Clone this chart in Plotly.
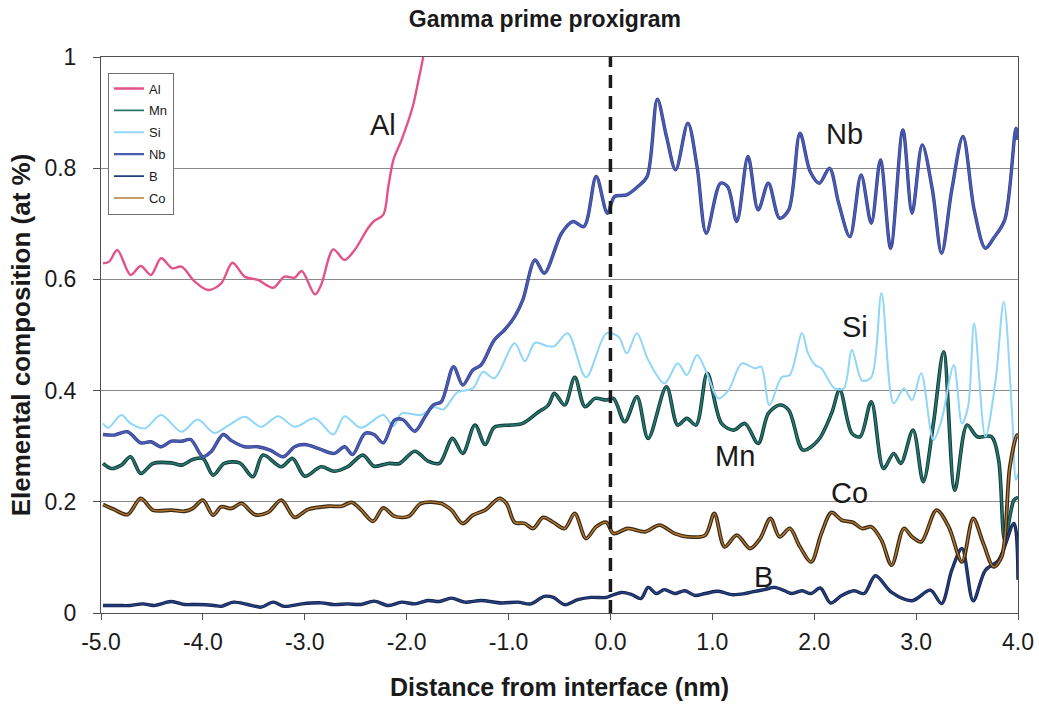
import plotly.graph_objects as go

# Proxigram profiles: distance from interface (nm) vs composition
al_x = [-4.98, -4.92, -4.84, -4.71, -4.61, -4.51, -4.41, -4.30, -4.21, -4.08, -3.95, -3.82,
        -3.71, -3.59, -3.46, -3.31, -3.20, -3.10, -3.03, -2.90, -2.84, -2.72, -2.61, -2.51,
        -2.38, -2.32, -2.23, -2.18, -2.13, -2.05, -1.94, -1.89, -1.84, -1.75]
al_y = [0.629, 0.632, 0.653, 0.608, 0.624, 0.608, 0.638, 0.620, 0.623, 0.596, 0.581, 0.593,
        0.630, 0.605, 0.599, 0.585, 0.605, 0.603, 0.615, 0.573, 0.590, 0.654, 0.635, 0.653,
        0.692, 0.705, 0.716, 0.767, 0.815, 0.851, 0.911, 0.953, 0.998, 1.10]

mn_x = [-4.98, -4.90, -4.80, -4.71, -4.61, -4.49, -4.31, -4.21, -4.10, -4.00, -3.90, -3.79,
        -3.64, -3.51, -3.41, -3.23, -3.12, -3.00, -2.84, -2.71, -2.58, -2.43, -2.32, -2.18,
        -2.07, -1.92, -1.79, -1.68, -1.55, -1.45, -1.33, -1.23, -1.14, -0.97, -0.86, -0.71,
        -0.61, -0.55, -0.45, -0.35, -0.25, -0.15, -0.04, 0.03, 0.14, 0.26, 0.37, 0.55, 0.66,
        0.75, 0.84, 0.95, 1.09, 1.21, 1.32, 1.45, 1.55, 1.66, 1.75, 1.89, 2.04, 2.17, 2.25,
        2.37, 2.45, 2.56, 2.68, 2.78, 2.85, 2.97, 3.07, 3.17, 3.27, 3.38, 3.50, 3.60, 3.74,
        3.81, 3.87, 3.96, 4.00]
mn_y = [0.269, 0.260, 0.266, 0.281, 0.251, 0.269, 0.270, 0.266, 0.276, 0.278, 0.248, 0.269,
        0.270, 0.245, 0.284, 0.263, 0.278, 0.246, 0.263, 0.255, 0.263, 0.284, 0.264, 0.269,
        0.269, 0.291, 0.273, 0.269, 0.314, 0.287, 0.338, 0.303, 0.334, 0.338, 0.341, 0.361,
        0.374, 0.395, 0.374, 0.424, 0.371, 0.386, 0.383, 0.386, 0.344, 0.389, 0.314, 0.407, 0.338,
        0.350, 0.338, 0.431, 0.341, 0.329, 0.341, 0.305, 0.359, 0.374, 0.365, 0.293, 0.311, 0.359, 0.401,
        0.323, 0.317, 0.380, 0.260, 0.287, 0.269, 0.329, 0.236, 0.341, 0.470, 0.221, 0.338, 0.317, 0.317,
        0.275, 0.131, 0.203, 0.208]

si_x = [-4.98, -4.93, -4.80, -4.71, -4.57, -4.41, -4.21, -4.05, -3.89, -3.76, -3.59, -3.43,
        -3.26, -3.10, -2.90, -2.72, -2.61, -2.45, -2.23, -2.13, -2.05, -1.86, -1.73, -1.64,
        -1.50, -1.35, -1.25, -1.14, -0.94, -0.84, -0.74, -0.62, -0.55, -0.42, -0.24, -0.04,
        0.08, 0.16, 0.26, 0.37, 0.53, 0.66, 0.75, 0.85, 0.94, 1.06, 1.16, 1.29, 1.42, 1.48,
        1.56, 1.68, 1.76, 1.88, 1.94, 2.01, 2.07, 2.20, 2.29, 2.37, 2.47, 2.56, 2.66, 2.78,
        2.88, 2.96, 3.05, 3.17, 3.25, 3.37, 3.45, 3.51, 3.57, 3.68, 3.78, 3.86, 3.94, 3.98, 4.00]
si_y = [0.341, 0.333, 0.356, 0.341, 0.332, 0.356, 0.326, 0.348, 0.324, 0.336, 0.353, 0.335,
        0.354, 0.335, 0.350, 0.321, 0.354, 0.333, 0.356, 0.336, 0.359, 0.356, 0.370, 0.366,
        0.397, 0.404, 0.434, 0.422, 0.485, 0.453, 0.486, 0.480, 0.480, 0.503, 0.424, 0.503,
        0.497, 0.467, 0.503, 0.455, 0.413, 0.449, 0.428, 0.464, 0.434, 0.386, 0.401, 0.449, 0.440, 0.443,
        0.374, 0.424, 0.428, 0.503, 0.467, 0.446, 0.440, 0.404, 0.404, 0.473, 0.418, 0.424, 0.575, 0.377,
        0.404, 0.383, 0.431, 0.311, 0.347, 0.446, 0.341, 0.371, 0.521, 0.317, 0.418, 0.560, 0.365, 0.239, 0.251]

nb_x = [-4.98, -4.87, -4.74, -4.61, -4.51, -4.41, -4.31, -4.21, -4.12, -4.00, -3.92, -3.80,
        -3.72, -3.59, -3.46, -3.34, -3.21, -3.10, -3.00, -2.87, -2.71, -2.61, -2.53, -2.41,
        -2.32, -2.23, -2.12, -2.04, -1.92, -1.82, -1.74, -1.66, -1.54, -1.45, -1.35, -1.27,
        -1.14, -1.04, -0.94, -0.86, -0.74, -0.65, -0.48, -0.37, -0.26, -0.14, -0.03, 0.04,
        0.16, 0.27, 0.36, 0.46, 0.55, 0.64, 0.76, 0.85, 0.94, 1.08, 1.15, 1.24, 1.35, 1.45,
        1.55, 1.66, 1.75, 1.86, 1.96, 2.05, 2.15, 2.24, 2.35, 2.46, 2.56, 2.65, 2.75, 2.87,
        2.96, 3.06, 3.16, 3.25, 3.35, 3.46, 3.57, 3.68, 3.76, 3.87, 3.98, 4.00]
nb_y = [0.321, 0.320, 0.326, 0.306, 0.308, 0.299, 0.309, 0.309, 0.312, 0.281, 0.290, 0.321,
        0.310, 0.299, 0.299, 0.293, 0.281, 0.299, 0.303, 0.296, 0.287, 0.299, 0.285, 0.323,
        0.321, 0.306, 0.347, 0.348, 0.327, 0.353, 0.374, 0.380, 0.443, 0.410, 0.437, 0.446,
        0.491, 0.509, 0.533, 0.563, 0.635, 0.611, 0.683, 0.704, 0.695, 0.785, 0.719, 0.749,
        0.752, 0.767, 0.785, 0.924, 0.857, 0.797, 0.881, 0.803, 0.683, 0.773, 0.767, 0.704, 0.821, 0.725,
        0.773, 0.710, 0.725, 0.863, 0.794, 0.773, 0.800, 0.737, 0.677, 0.788, 0.701, 0.815, 0.656, 0.869,
        0.719, 0.842, 0.761, 0.647, 0.761, 0.857, 0.725, 0.656, 0.674, 0.707, 0.872, 0.851]

b_x = [-4.98, -4.84, -4.71, -4.59, -4.48, -4.31, -4.18, -4.05, -3.89, -3.82, -3.70, -3.56,
       -3.43, -3.31, -3.20, -3.03, -2.84, -2.71, -2.58, -2.45, -2.32, -2.18, -2.05, -1.92,
       -1.79, -1.68, -1.56, -1.43, -1.27, -1.07, -0.91, -0.78, -0.65, -0.56, -0.45, -0.32,
       -0.19, -0.04, 0.01, 0.11, 0.21, 0.30, 0.37, 0.45, 0.53, 0.63, 0.73, 0.83, 0.93, 1.06,
       1.19, 1.32, 1.42, 1.51, 1.61, 1.71, 1.78, 1.88, 1.97, 2.06, 2.16, 2.27, 2.39, 2.49,
       2.60, 2.76, 2.96, 3.14, 3.25, 3.35, 3.45, 3.56, 3.68, 3.81, 3.96, 4.00]
b_y = [0.0135, 0.0135, 0.0135, 0.0165, 0.0135, 0.0207, 0.0153, 0.0153, 0.0135, 0.012, 0.0195, 0.0153,
       0.0105, 0.0195, 0.012, 0.0165, 0.0183, 0.0150, 0.0165, 0.0153, 0.0213, 0.0135, 0.0195, 0.0165,
       0.0225, 0.0207, 0.0267, 0.0195, 0.0225, 0.0180, 0.0195, 0.0165, 0.030, 0.028, 0.015, 0.024,
       0.028, 0.028, 0.0315, 0.037, 0.033, 0.026, 0.046, 0.035, 0.042, 0.035, 0.040, 0.0315, 0.035, 0.039,
       0.033, 0.035, 0.039, 0.042, 0.046, 0.040, 0.035, 0.040, 0.035, 0.045, 0.018, 0.0315, 0.040, 0.035,
       0.067, 0.037, 0.022, 0.041, 0.017, 0.077, 0.116, 0.022, 0.077, 0.095, 0.161, 0.060]

co_x = [-4.98, -4.87, -4.74, -4.61, -4.49, -4.31, -4.18, -4.10, -4.00, -3.90, -3.82, -3.72,
        -3.62, -3.49, -3.36, -3.23, -3.10, -2.97, -2.77, -2.64, -2.54, -2.45, -2.33, -2.23,
        -2.12, -1.98, -1.86, -1.66, -1.56, -1.45, -1.35, -1.23, -1.09, -1.02, -0.94, -0.84,
        -0.76, -0.66, -0.56, -0.45, -0.35, -0.24, -0.14, -0.04, 0.03, 0.17, 0.34, 0.48, 0.63,
        0.76, 0.93, 1.02, 1.12, 1.24, 1.37, 1.47, 1.57, 1.66, 1.76, 1.86, 1.97, 2.07, 2.17,
        2.27, 2.38, 2.47, 2.56, 2.66, 2.76, 2.88, 2.96, 3.05, 3.20, 3.32, 3.45, 3.56, 3.66,
        3.76, 3.84, 3.92, 3.99, 4.00]
co_y = [0.195, 0.186, 0.177, 0.206, 0.185, 0.185, 0.183, 0.188, 0.203, 0.176, 0.191, 0.188,
        0.197, 0.177, 0.181, 0.203, 0.172, 0.186, 0.192, 0.192, 0.199, 0.186, 0.165, 0.189,
        0.174, 0.174, 0.197, 0.197, 0.185, 0.161, 0.176, 0.185, 0.206, 0.197, 0.163, 0.161,
        0.152, 0.172, 0.163, 0.152, 0.179, 0.134, 0.155, 0.163, 0.143, 0.152, 0.146, 0.158, 0.143,
        0.137, 0.140, 0.179, 0.119, 0.140, 0.116, 0.134, 0.170, 0.137, 0.152, 0.119, 0.092, 0.143, 0.181,
        0.167, 0.163, 0.152, 0.155, 0.131, 0.086, 0.152, 0.137, 0.128, 0.185, 0.155, 0.092, 0.170, 0.125,
        0.083, 0.101, 0.263, 0.320, 0.318]

x_tickvals = [-5, -4, -3, -2, -1, 0, 1, 2, 3, 4]
x_ticktext = ["-5.0", "-4.0", "-3.0", "-2.0", "-1.0", "0.0", "1.0", "2.0", "3.0", "4.0"]
y_tickvals = [0, 0.2, 0.4, 0.6, 0.8, 1]
y_ticktext = ["0", "0.2", "0.4", "0.6", "0.8", "1"]

# name, x, y, core colour, edge colour (None = plain line), core width, edge width
series = [
    ("Al", al_x, al_y, "#e2538a", None, 2.4, 0),
    ("Mn", mn_x, mn_y, "#27766e", "#0f3636", 1.8, 3.6),
    ("Si", si_x, si_y, "#8fd6f8", None, 2.0, 0),
    ("Nb", nb_x, nb_y, "#4a5bb0", "#2e3c8c", 2.2, 3.4),
    ("B", b_x, b_y, "#22407a", "#141d4c", 1.8, 3.4),
    ("Co", co_x, co_y, "#b27a34", "#3a2812", 1.4, 3.8),
]

label_names = ["Al", "Nb", "Si", "Mn", "Co", "B"]
label_x = [-2.23, 2.30, 2.40, 1.22, 2.35, 1.50]
label_y = [0.878, 0.862, 0.514, 0.283, 0.215, 0.064]

FONT = "Liberation Sans, Arial, Helvetica, sans-serif"

fig = go.Figure()
for name, xs, ys, core, edge, cw, ew in series:
    if edge:
        fig.add_trace(go.Scatter(
            x=xs, y=ys, mode="lines", line=dict(color=edge, width=ew, shape="spline", smoothing=0.9),
            showlegend=False, hoverinfo="skip", legendgroup=name,
        ))
    fig.add_trace(go.Scatter(
        x=xs, y=ys, mode="lines", name=name, legendgroup=name,
        line=dict(color=core, width=cw, shape="spline", smoothing=0.9),
    ))

# interface marker
fig.add_shape(type="line", x0=0, x1=0, y0=0, y1=1, xref="x", yref="y",
              line=dict(color="#1a1a1a", width=3.5, dash="13px,8px"))

for t, lx, ly in zip(label_names, label_x, label_y):
    fig.add_annotation(x=lx, y=ly, text=t, showarrow=False,
                       font=dict(family=FONT, size=29, color="#1a1a1a"))

fig.update_layout(
    width=1039, height=706,
    margin=dict(l=101, r=21, t=57, b=93, autoexpand=False),
    paper_bgcolor="white", plot_bgcolor="white",
    font=dict(family=FONT, color="#1a1a1a"),
    title=dict(text="<b>Gamma prime proxigram</b>", font=dict(size=23, family=FONT),
               x=0.5245, xanchor="center", y=1 - 19 / 706, yanchor="middle", automargin=False),
    legend=dict(x=0.0076, y=0.972, xanchor="left", yanchor="top",
                bgcolor="white", bordercolor="#707070", borderwidth=1,
                font=dict(size=13, family=FONT), tracegroupgap=2,
                itemwidth=30),
    showlegend=True,
)

fig.update_xaxes(
    range=[-5, 4], tickvals=x_tickvals, ticktext=x_ticktext, automargin=False,
    showgrid=False, zeroline=False,
    showline=True, linecolor="#505050", linewidth=1, mirror=True,
    ticks="outside", ticklen=6, tickcolor="#505050",
    tickfont=dict(size=23, family=FONT), ticklabelstandoff=2,
    title=dict(text="<b>Distance from interface (nm)</b>", font=dict(size=25, family=FONT), standoff=24),
)
fig.update_yaxes(
    range=[0, 1], tickvals=y_tickvals, ticktext=y_ticktext, automargin=False,
    showgrid=True, gridcolor="#8a8a8a", gridwidth=1, zeroline=False,
    showline=True, linecolor="#505050", linewidth=1, mirror=True,
    ticks="outside", ticklen=7, tickcolor="#505050",
    tickfont=dict(size=23, family=FONT), ticklabelstandoff=12,
    title=dict(text="<b>Elemental composition (at %)</b>", font=dict(size=26, family=FONT), standoff=6),
)

fig.write_html("out.html")
